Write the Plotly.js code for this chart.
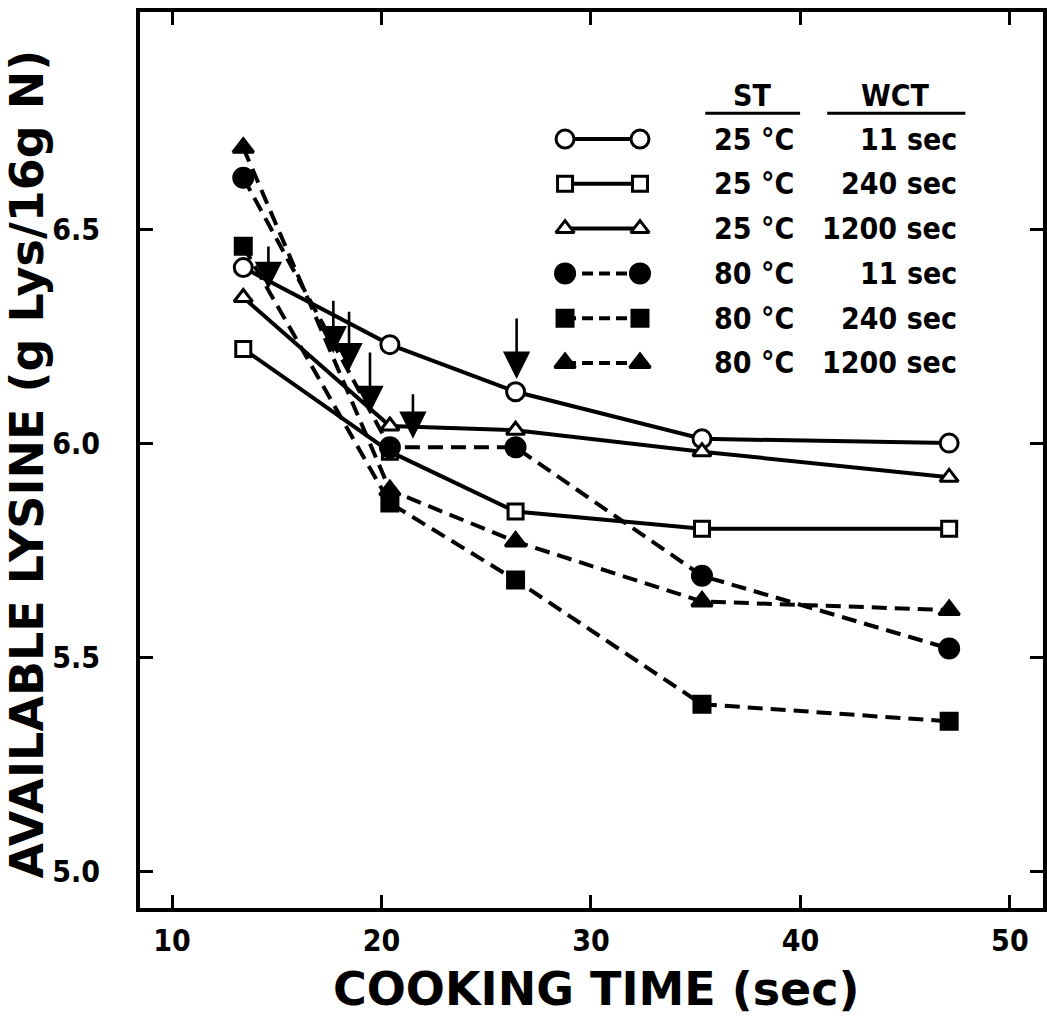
<!DOCTYPE html>
<html>
<head>
<meta charset="utf-8">
<script src="https://cdn.plot.ly/plotly-3.0.1.min.js"></script>
<style>
  html, body { margin: 0; padding: 0; background: #fff; }
  #chart { width: 1047px; height: 1019px; }
</style>
</head>
<body>
<div id="chart"></div>
<script>
// ---- data ----
const cookingTime = [13.4, 20.4, 26.4, 35.3, 47.1];

const st25_wct11   = [6.41, 6.23, 6.12, 6.01, 6.00];
const st25_wct240  = [6.22, 5.98, 5.84, 5.80, 5.80];
const st25_wct1200 = [6.34, 6.04, 6.03, 5.98, 5.92];
const st80_wct11   = [6.62, 5.99, 5.99, 5.69, 5.52];
const st80_wct240  = [6.46, 5.86, 5.68, 5.39, 5.35];
const st80_wct1200 = [6.69, 5.89, 5.77, 5.63, 5.61];

const stLabels  = ["25 °C", "25 °C", "25 °C", "80 °C", "80 °C", "80 °C"];
const wctLabels = ["11 sec", "240 sec", "1200 sec", "11 sec", "240 sec", "1200 sec"];

// arrows marking points (x, y of arrow tip)
const arrowX = [14.6, 17.7, 18.45, 19.45, 21.5, 26.45];
const arrowY = [6.36, 6.21, 6.17, 6.07, 6.01, 6.15];
const arrowLen = [44, 54, 60, 62, 46, 62];

const xTicks = [10, 20, 30, 40, 50];
const yTicks = [5.0, 5.5, 6.0, 6.5];
const yTickText = ["5.0", "5.5", "6.0", "6.5"];

// ---- styles ----
const series = [
  {y: st25_wct11,   symbol: "circle",        fill: "#fff", dash: "solid", size: 18},
  {y: st25_wct240,  symbol: "square",        fill: "#fff", dash: "solid", size: 15},
  {y: st25_wct1200, symbol: "triangle-up",   fill: "#fff", dash: "solid", size: 16},
  {y: st80_wct11,   symbol: "circle",        fill: "#000", dash: "15px,8px", size: 19},
  {y: st80_wct240,  symbol: "square",        fill: "#000", dash: "15px,8px", size: 16},
  {y: st80_wct1200, symbol: "triangle-up",   fill: "#000", dash: "15px,8px", size: 18}
];

const monoFam = "DejaVu Sans Condensed, DejaVu Sans Mono, monospace";
const tickFont = {family: monoFam, size: 30, color: "#000", weight: "bold"};
const titleFont = {family: "DejaVu Sans, Liberation Sans, sans-serif", size: 46, color: "#000", weight: "bold"};

const traces = [];
series.forEach((s) => {
  traces.push({
    x: cookingTime, y: s.y, type: "scatter", mode: "lines+markers",
    line: {color: "#000", width: 4, dash: s.dash},
    marker: {symbol: s.symbol, size: s.size, color: s.fill, line: {color: "#000", width: 3}},
    cliponaxis: false, showlegend: false, hoverinfo: "skip"
  });
});
// legend samples (row index on a separate axis)
series.forEach((s, i) => {
  traces.push({
    x: [0, 1], y: [i, i], xaxis: "x2", yaxis: "y2", type: "scatter", mode: "lines+markers",
    line: {color: "#000", width: 4, dash: s.dash === "solid" ? "solid" : "11px,6px"},
    marker: {symbol: s.symbol, size: s.size, color: s.fill, line: {color: "#000", width: 3}},
    cliponaxis: false, showlegend: false, hoverinfo: "skip"
  });
});

const annotations = [];
arrowX.forEach((ax, i) => {
  annotations.push({
    x: ax, y: arrowY[i], xref: "x", yref: "y", text: "",
    showarrow: true, ax: 0, ay: -arrowLen[i], arrowhead: 2, arrowsize: 2.1,
    arrowwidth: 2.6, arrowcolor: "#000"
  });
});
const legFont = {family: monoFam, size: 30, color: "#000", weight: "bold"};
stLabels.forEach((t, i) => {
  annotations.push({x: 0.633, y: i, xref: "paper", yref: "y2", text: t, showarrow: false,
    xanchor: "left", yanchor: "middle", font: legFont});
  annotations.push({x: 0.907, y: i, xref: "paper", yref: "y2", text: wctLabels[i], showarrow: false,
    xanchor: "right", yanchor: "middle", font: legFont});
});
annotations.push({x: 0.678, y: 0.907, xref: "paper", yref: "paper", text: "ST", showarrow: false,
  xanchor: "center", yanchor: "middle", font: legFont});
annotations.push({x: 0.837, y: 0.907, xref: "paper", yref: "paper", text: "WCT", showarrow: false,
  xanchor: "center", yanchor: "middle", font: legFont});
// axis titles
annotations.push({x: 0.505, y: -0.09, xref: "paper", yref: "paper", text: "COOKING TIME (sec)",
  showarrow: false, xanchor: "center", yanchor: "middle", font: titleFont});
annotations.push({x: -0.125, y: 0.495, xref: "paper", yref: "paper", text: "AVAILABLE LYSINE (g Lys/16g N)",
  textangle: -90, showarrow: false, xanchor: "center", yanchor: "middle", font: titleFont});

const shapes = [
  {type: "line", xref: "paper", yref: "paper", x0: 0.626, x1: 0.731, y0: 0.887, y1: 0.887, line: {color: "#000", width: 3}},
  {type: "line", xref: "paper", yref: "paper", x0: 0.761, x1: 0.914, y0: 0.887, y1: 0.887, line: {color: "#000", width: 3}}
];

const layout = {
  width: 1047, height: 1019,
  margin: {l: 140, r: 4, t: 12, b: 111},
  paper_bgcolor: "#fff", plot_bgcolor: "#fff",
  showlegend: false,
  xaxis: {
    range: [8.47, 51.58], tickvals: xTicks, ticktext: xTicks.map(String),
    ticks: "inside", ticklen: 13, tickwidth: 3, tickcolor: "#000",
    showline: true, linewidth: 4, linecolor: "#000", mirror: "ticks",
    showgrid: false, zeroline: false, tickfont: tickFont, ticklabelstandoff: 3
  },
  yaxis: {
    range: [4.914, 7.007], tickvals: yTicks, ticktext: yTickText,
    ticks: "inside", ticklen: 13, tickwidth: 3, tickcolor: "#000",
    showline: true, linewidth: 4, linecolor: "#000", mirror: "ticks",
    showgrid: false, zeroline: false, tickfont: tickFont, ticklabelstandoff: 30
  },
  xaxis2: {domain: [0.4707, 0.5537], range: [0, 1], visible: false, fixedrange: true},
  yaxis2: {domain: [0.5933, 0.8732], range: [5.3, -0.3], visible: false, fixedrange: true},
  annotations: annotations,
  shapes: shapes
};

Plotly.newPlot("chart", traces, layout, {displayModeBar: false, staticPlot: true});
</script>
</body>
</html>
